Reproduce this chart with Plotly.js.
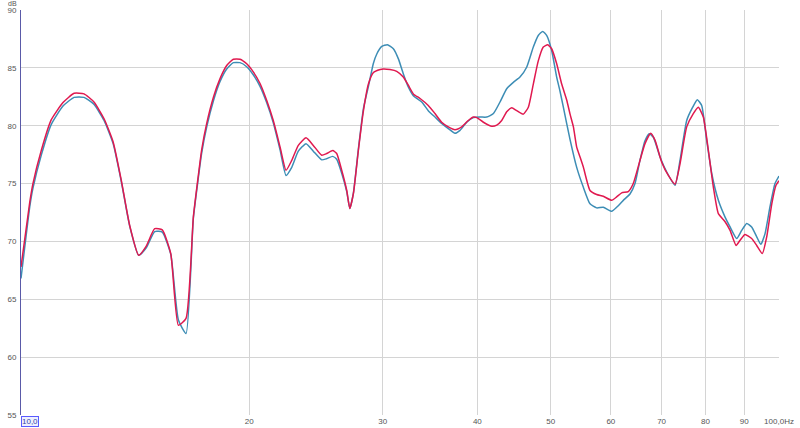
<!DOCTYPE html>
<html>
<head>
<meta charset="utf-8">
<script src="https://cdn.plot.ly/plotly-3.0.1.min.js"></script>
<style>
html,body{margin:0;padding:0;background:#fff;}
#chart{width:800px;height:428px;}
</style>
</head>
<body>
<div id="chart"></div>
<script>
// Red trace (frequency in Hz, level in dB)
const redFreq = [10.0,10.27,10.37,10.64,10.96,11.36,11.75,12.11,12.48,12.87,13.23,13.56,13.91,14.30,14.63,15.01,15.36,15.76,16.13,16.51,16.88,17.13,17.31,17.58,17.95,18.30,18.68,19.06,19.45,19.85,20.25,20.67,21.09,21.52,21.97,22.37,22.76,23.22,23.77,24.30,24.93,25.31,25.78,26.09,26.49,26.90,27.15,27.45,27.87,28.30,28.73,29.17,29.78,30.06,30.68,31.31,31.94,32.43,32.93,33.61,34.46,35.17,35.89,36.62,37.37,38.14,38.91,39.52,39.93,40.74,41.79,42.43,43.07,43.73,44.40,45.08,45.99,46.70,47.41,48.13,48.87,49.53,50.13,50.90,51.68,52.48,53.01,53.55,54.09,54.64,55.18,56.32,57.47,58.64,60.15,61.07,62.01,63.26,64.23,65.55,66.56,67.72,68.61,70.03,71.45,72.92,74.03,75.55,77.08,78.26,79.46,80.68,81.92,83.18,84.89,86.19,87.77,88.84,90.19,92.03,93.45,95.06,96.34,97.83,99.09,100.0];
const redDb = [67.8,73.4,75.0,77.9,80.5,82.0,82.8,82.75,82.05,80.6,78.6,75.3,71.4,68.8,69.6,71.1,71.0,68.95,62.75,63.35,72.1,75.6,77.9,80.2,82.5,84.05,85.2,85.75,85.75,85.35,84.65,83.65,82.2,80.45,78.15,76.15,77.0,78.3,78.95,78.3,77.45,77.6,77.85,77.6,76.15,74.4,72.85,74.15,77.9,81.3,83.6,84.6,84.85,84.9,84.85,84.7,84.2,83.5,82.75,82.35,81.75,81.05,80.3,79.9,79.65,79.9,80.45,80.75,80.7,80.3,79.95,80.05,80.45,81.2,81.55,81.3,81.0,81.6,83.6,85.6,86.8,87.0,86.65,85.35,83.6,82.2,81.0,79.9,78.15,77.3,76.45,74.4,74.05,73.9,73.55,73.85,74.2,74.3,75.0,77.0,78.45,79.35,78.75,76.85,75.7,74.95,76.7,79.9,81.05,81.6,80.75,77.9,74.7,72.4,71.7,70.95,69.65,70.1,70.6,70.25,69.65,68.95,70.4,73.25,74.85,75.25];

// Blue trace
const blueFreq = [10.0,10.27,10.37,10.64,10.96,11.36,11.75,12.11,12.48,12.87,13.23,13.56,13.91,14.30,14.63,15.01,15.36,15.76,16.13,16.51,16.88,17.13,17.31,17.58,17.95,18.30,18.68,19.06,19.45,19.85,20.25,20.67,21.09,21.52,21.97,22.37,22.76,23.22,23.77,24.30,24.93,25.31,25.78,26.09,26.49,26.90,27.15,27.45,27.87,28.30,28.73,29.17,29.47,29.92,30.43,30.99,31.46,31.94,32.43,32.93,33.78,34.46,35.17,35.89,36.62,37.37,37.95,38.73,39.52,40.33,41.16,42.00,42.85,43.73,44.62,45.53,46.46,47.41,48.13,48.78,49.37,50.13,50.90,51.41,51.94,53.01,54.09,55.18,56.32,57.47,58.64,60.15,61.07,62.32,63.59,64.57,65.55,66.56,67.44,68.28,69.67,71.10,72.92,74.03,75.55,76.94,78.02,79.07,80.29,81.53,83.18,84.89,86.19,87.95,89.28,90.66,92.03,93.45,94.60,95.83,97.30,98.79,100.0];
const blueDb = [66.8,73.0,74.6,77.5,80.1,81.7,82.45,82.45,81.85,80.45,78.45,75.2,71.35,68.8,69.45,70.85,70.8,68.9,63.2,62.05,72.0,75.4,77.6,79.9,82.2,83.8,84.9,85.45,85.45,85.1,84.4,83.4,82.0,80.25,77.9,75.7,76.4,77.8,78.45,77.8,77.05,77.15,77.35,77.1,75.9,74.3,72.85,74.2,78.0,81.5,83.4,85.4,86.2,86.85,87.0,86.65,85.8,84.5,83.35,82.6,82.05,81.3,80.75,80.2,79.75,79.35,79.6,80.3,80.7,80.75,80.75,81.05,82.05,83.2,83.75,84.2,85.05,86.8,87.8,88.15,87.8,86.5,84.2,83.0,81.6,78.8,76.4,74.7,73.25,72.9,72.95,72.6,72.95,73.55,74.1,75.0,77.0,78.7,79.3,79.0,77.3,76.0,74.85,77.0,80.45,81.6,82.25,81.75,78.7,75.85,73.55,72.1,71.25,70.25,70.95,71.55,71.25,70.4,69.75,70.65,73.0,75.0,75.65];

const xTickVals = [20,30,40,50,60,70,80,90,100];
const xTickText = ['20','30','40','50','60','70','80','90','100,0Hz'];
const yTickVals = [55,60,65,70,75,80,85,90];
const yTickText = ['55','60','65','70','75','80','85','90'];

const traces = [
  {x: blueFreq, y: blueDb, type: 'scatter', mode: 'lines',
   line: {color: '#3d8db5', width: 1.5, shape: 'spline', smoothing: 0.5}, name: 'blue'},
  {x: redFreq, y: redDb, type: 'scatter', mode: 'lines',
   line: {color: '#e0194f', width: 1.5, shape: 'spline', smoothing: 0.5}, name: 'red'}
];

const layout = {
  width: 800, height: 428,
  margin: {l: 21, r: 21, t: 10, b: 13, pad: 0},
  paper_bgcolor: '#ffffff', plot_bgcolor: '#ffffff',
  showlegend: false,
  font: {family: 'Liberation Sans, Arial, sans-serif', size: 8, color: '#555'},
  xaxis: {
    type: 'log', range: [1, 2], autorange: false,
    tickvals: xTickVals, ticktext: xTickText,
    showgrid: true, gridcolor: '#d4d4d4', gridwidth: 1,
    zeroline: false, showline: false, ticks: '',
    tickfont: {size: 8, color: '#555'}, automargin: false
  },
  yaxis: {
    range: [55, 90], autorange: false,
    tickvals: yTickVals, ticktext: yTickText,
    showgrid: true, gridcolor: '#d4d4d4', gridwidth: 1,
    zeroline: false, showline: true, linecolor: '#5a5aa8', linewidth: 1,
    ticks: '', ticklabelstandoff: 2,
    tickfont: {size: 8, color: '#555'}, automargin: false
  },
  annotations: [
    {text: 'dB', xref: 'paper', yref: 'paper', x: 0, y: 1, xanchor: 'right', yanchor: 'top',
     showarrow: false, font: {size: 7, color: '#555'}, xshift: -3, yshift: 11, borderpad: 0},
    {text: '10,0', xref: 'paper', yref: 'paper', x: 0, y: 0, xanchor: 'left', yanchor: 'top',
     showarrow: false, font: {size: 8, color: '#3344aa'}, bordercolor: '#5a5aff', borderwidth: 1,
     borderpad: 0, bgcolor: '#eef0ff', yshift: -1}
  ]
};

Plotly.newPlot('chart', traces, layout, {staticPlot: true, displayModeBar: false});
</script>
</body>
</html>
